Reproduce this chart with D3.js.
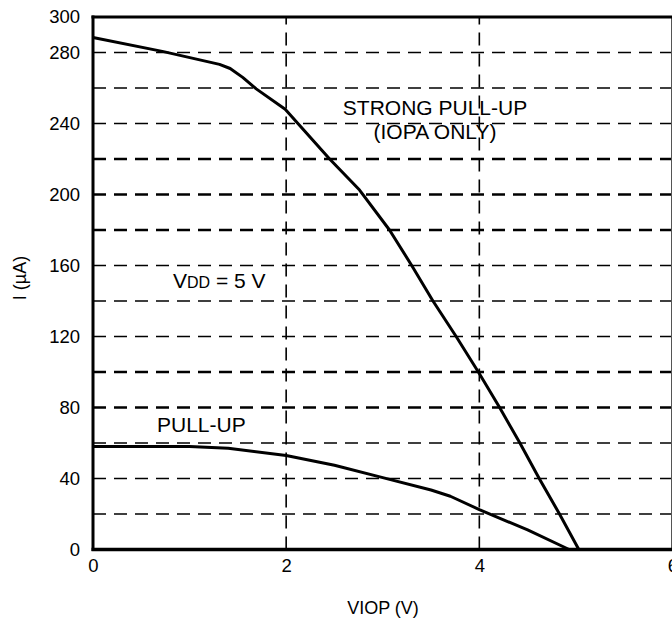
<!DOCTYPE html>
<html>
<head>
<meta charset="utf-8">
<script src="https://cdn.jsdelivr.net/npm/d3@7"></script>
<style>
  html, body { margin: 0; padding: 0; background: #fff; }
  svg { display: block; font-family: "Liberation Sans", Arial, Helvetica, sans-serif; }
</style>
</head>
<body>
<div id="chart"></div>
<script>
// ---- data ----
const xTicks = [0, 2, 4, 6];
const yTicks = [0, 40, 80, 120, 160, 200, 240, 280, 300];
const yGrid = [20, 40, 60, 80, 100, 120, 140, 160, 180, 200, 220, 240, 260, 280];
const yGridBold = [80, 100, 180, 200, 220];
const xGrid = [2, 4];

const strongV = [0, 0.73, 1.31, 1.42, 1.55, 1.69, 1.99, 2.45, 2.76, 3.07, 3.30, 3.52, 3.76, 3.99, 4.21, 4.42, 4.62, 4.83, 5.03];
const strongI = [288.5, 280.5, 273.3, 271, 266, 259.5, 248, 220, 202.5, 180, 160, 140, 120, 100, 80, 60, 40, 20, 0];

const pullV = [0, 1.0, 1.4, 2.0, 2.5, 3.0, 3.5, 3.7, 4.0, 4.5, 4.93];
const pullI = [58, 58, 57, 53, 47.5, 40.5, 33.5, 30, 22.5, 11, 0];

const xLabel = "VIOP (V)";
const yLabel = "I (µA)";

// ---- layout ----
const W = 672, H = 619;
const svg = d3.select("#chart").append("svg").attr("width", W).attr("height", H);

const x = d3.scaleLinear().domain([0, 6]).range([93, 672.5]);
const y = d3.scaleLinear().domain([0, 300]).range([549.5, 17]);

// grid
const g = svg.append("g");
g.selectAll("line.hg").data(yGrid).enter().append("line")
  .attr("x1", x(0)).attr("x2", x(6))
  .attr("y1", d => y(d)).attr("y2", d => y(d))
  .attr("stroke", "#000")
  .attr("stroke-width", d => yGridBold.includes(d) ? 2.6 : 1.6)
  .attr("stroke-dasharray", "13,8");

g.selectAll("line.vg").data(xGrid).enter().append("line")
  .attr("x1", d => x(d)).attr("x2", d => x(d))
  .attr("y1", y(0)).attr("y2", y(300))
  .attr("stroke", "#000").attr("stroke-width", 1.6)
  .attr("stroke-dasharray", "13,8");

// right border (thin)
svg.append("line")
  .attr("x1", x(6) - 1).attr("x2", x(6) - 1)
  .attr("y1", y(0)).attr("y2", y(300))
  .attr("stroke", "#555").attr("stroke-width", 1);

// curves
const line = d3.line().x(d => x(d[0])).y(d => y(d[1]));
svg.append("path").datum(d3.zip(strongV, strongI))
  .attr("d", line).attr("fill", "none").attr("stroke", "#000").attr("stroke-width", 3).attr("stroke-linejoin", "round");
svg.append("path").datum(d3.zip(pullV, pullI))
  .attr("d", line).attr("fill", "none").attr("stroke", "#000").attr("stroke-width", 3).attr("stroke-linejoin", "round");

// axes frame
svg.append("line").attr("x1", x(0)).attr("x2", x(0)).attr("y1", y(0) + 1.5).attr("y2", y(300) - 1.5)
  .attr("stroke", "#000").attr("stroke-width", 3);
svg.append("line").attr("x1", x(0) - 1.5).attr("x2", x(6)).attr("y1", y(0)).attr("y2", y(0))
  .attr("stroke", "#000").attr("stroke-width", 3.5);
svg.append("line").attr("x1", x(0) - 1.5).attr("x2", x(6)).attr("y1", y(300)).attr("y2", y(300))
  .attr("stroke", "#000").attr("stroke-width", 3);

// tick labels
const xAxis = d3.axisBottom(x).tickValues(xTicks).tickSize(0).tickPadding(7).tickFormat(d3.format("d"));
const xa = svg.append("g").attr("transform", `translate(0,${y(0) + 2})`).call(xAxis);
xa.select(".domain").remove();
xa.selectAll("text").attr("font-size", 18.5).attr("fill", "#000").attr("font-family", "Liberation Sans, Arial, sans-serif");

const yAxis = d3.axisLeft(y).tickValues(yTicks).tickSize(0).tickPadding(13).tickFormat(d3.format("d"));
const ya = svg.append("g").attr("transform", `translate(${x(0)},0)`).call(yAxis);
ya.select(".domain").remove();
ya.selectAll("text").attr("font-size", 18.5).attr("fill", "#000").attr("font-family", "Liberation Sans, Arial, sans-serif");

// axis titles
svg.append("text").attr("x", 383).attr("y", 614).attr("text-anchor", "middle")
  .attr("font-size", 18).text(xLabel);
svg.append("text").attr("transform", "translate(26,278) rotate(-90)").attr("text-anchor", "middle")
  .attr("font-size", 18).text(yLabel);

// annotations
svg.append("text").attr("x", 435).attr("y", 115).attr("text-anchor", "middle").attr("font-size", 21).text("STRONG PULL-UP");
svg.append("text").attr("x", 435).attr("y", 139).attr("text-anchor", "middle").attr("font-size", 21).text("(IOPA ONLY)");

const vdd = svg.append("text").attr("x", 173).attr("y", 288).attr("font-size", 21);
vdd.append("tspan").text("V");
vdd.append("tspan").attr("font-size", 16).text("DD");
vdd.append("tspan").text(" = 5 V");

svg.append("text").attr("x", 157).attr("y", 432).attr("font-size", 21).text("PULL-UP");
</script>
</body>
</html>
